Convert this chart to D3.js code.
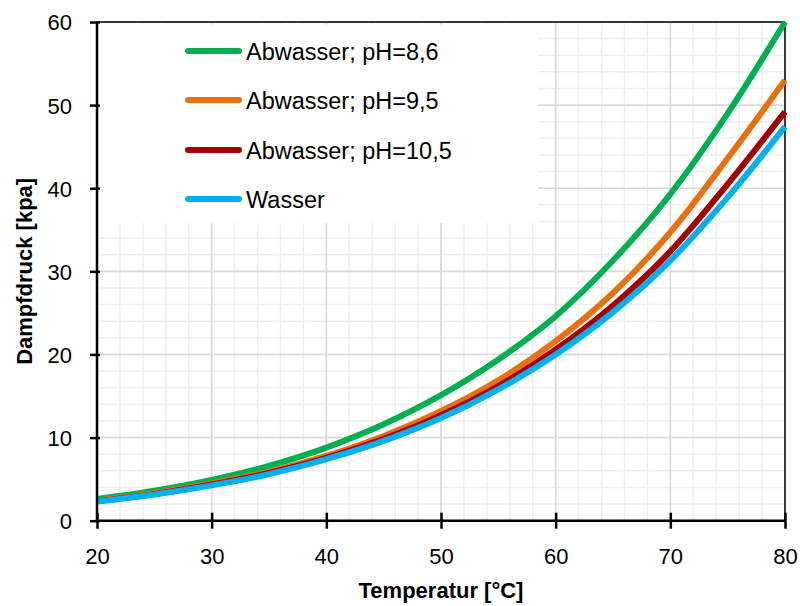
<!DOCTYPE html>
<html><head><meta charset="utf-8">
<script src="https://cdn.jsdelivr.net/npm/d3@7"></script>
<style>body{margin:0;background:#fff}svg{display:block;font-family:"Liberation Sans",Arial,sans-serif}</style>
</head><body><svg id="c" width="800" height="606"></svg>
<script>
const temps = [20,25,30,35,40,45,50,55,60,65,70,75,80];
const seriesNames = ["Abwasser; pH=8,6","Abwasser; pH=9,5","Abwasser; pH=10,5","Wasser"];
const ph86  = [2.6,3.6,4.9,6.6,8.8,11.6,15.1,19.4,24.6,31.3,39.3,49.0,60.0];
const ph95  = [2.4,3.3,4.5,5.9,7.8,10.2,13.2,16.9,21.6,27.4,34.7,43.6,53.0];
const ph105 = [2.35,3.2,4.35,5.75,7.55,9.85,12.7,16.2,20.6,25.9,32.4,40.5,49.2];
const wasser= [2.3,3.15,4.25,5.6,7.4,9.6,12.35,15.8,20.0,25.1,31.3,38.9,47.4];
const colors = ["#00b050","#e8700f","#a50000","#00b0f0"];
const xTicks = [20,30,40,50,60,70,80];
const yTicks = [0,10,20,30,40,50,60];

const svg = d3.select("#c");
const L=97, R=785, T=22, B=520.7;
const x = d3.scaleLinear().domain([20,80]).range([L,R]);
const y = d3.scaleLinear().domain([0,60]).range([B,T]);

// minor grid
const g = svg.append("g");
d3.range(20,81,2).filter(v=>v%10!==0).forEach(v=>{
  g.append("line").attr("x1",x(v)).attr("x2",x(v)).attr("y1",T).attr("y2",B).attr("stroke","#efefef").attr("stroke-width",1.5);
});
d3.range(0,61,2).filter(v=>v%10!==0).forEach(v=>{
  g.append("line").attr("y1",y(v)).attr("y2",y(v)).attr("x1",L).attr("x2",R).attr("stroke","#efefef").attr("stroke-width",1.5);
});
// major grid
xTicks.forEach(v=>{
  g.append("line").attr("x1",x(v)).attr("x2",x(v)).attr("y1",T).attr("y2",B).attr("stroke","#d9d9d9").attr("stroke-width",1.7);
});
yTicks.forEach(v=>{
  g.append("line").attr("y1",y(v)).attr("y2",y(v)).attr("x1",L).attr("x2",R).attr("stroke","#d9d9d9").attr("stroke-width",1.7);
});

// legend background
svg.append("rect").attr("x",L+1.5).attr("y",T+2.5).attr("width",538-L-1.5).attr("height",223-T-2.5).attr("fill","#fff");

// frame top/right
svg.append("line").attr("x1",L).attr("x2",R).attr("y1",T).attr("y2",T).attr("stroke","#000").attr("stroke-width",1.5);
svg.append("line").attr("x1",R).attr("x2",R).attr("y1",T).attr("y2",B).attr("stroke","#000").attr("stroke-width",1.5);

// series
const data = [ph86,ph95,ph105,wasser];
const line = d3.line().x((d,i)=>x(temps[i])).y(d=>y(d)).curve(d3.curveMonotoneX);
data.forEach((s,k)=>{
  svg.append("path").attr("d",line(s)).attr("fill","none").attr("stroke",colors[k]).attr("stroke-width",6).attr("stroke-linecap","butt").attr("stroke-linejoin","round");
});

// axes
const xAxis = d3.axisBottom(x).tickValues(xTicks).tickSize(0).tickPadding(0);
const xa = svg.append("g").attr("transform",`translate(0,${B})`).call(xAxis);
xa.select(".domain").remove();
xa.selectAll(".tick text").attr("font-size",22).attr("font-family","Liberation Sans, Arial, sans-serif").attr("fill","#000").attr("dy",null).attr("y",43);
xa.selectAll(".tick").append("line").attr("y1",-8).attr("y2",8).attr("stroke","#000").attr("stroke-width",2.5);
const yAxis = d3.axisLeft(y).tickValues(yTicks).tickSize(0).tickPadding(0);
const ya = svg.append("g").attr("transform",`translate(${L},0)`).call(yAxis);
ya.select(".domain").remove();
ya.selectAll(".tick text").attr("font-size",22).attr("font-family","Liberation Sans, Arial, sans-serif").attr("fill","#000").attr("x",-25).attr("dy","0.36em");
ya.selectAll(".tick").append("line").attr("x1",-7).attr("x2",3).attr("stroke","#000").attr("stroke-width",2.5);
svg.append("line").attr("x1",L).attr("x2",L).attr("y1",T).attr("y2",B+1.2).attr("stroke","#000").attr("stroke-width",2.5);
svg.append("line").attr("x1",L-1.2).attr("x2",R+1).attr("y1",B).attr("y2",B).attr("stroke","#000").attr("stroke-width",2.5);

// titles
svg.append("text").attr("x",(L+R)/2).attr("y",598).attr("text-anchor","middle").attr("font-weight","bold").attr("font-size",22).text("Temperatur [°C]");
svg.append("text").attr("transform",`translate(32,${(T+B)/2}) rotate(-90)`).attr("text-anchor","middle").attr("font-weight","bold").attr("font-size",22).text("Dampfdruck [kpa]");

// legend
const ly = [51,100,150,199];
seriesNames.forEach((n,k)=>{
  svg.append("line").attr("x1",188).attr("x2",239).attr("y1",ly[k]).attr("y2",ly[k]).attr("stroke",colors[k]).attr("stroke-width",6).attr("stroke-linecap","round");
  svg.append("text").attr("x",246).attr("y",ly[k]+8.5).attr("font-size",23.5).attr("fill","#000").text(n);
});
</script></body></html>
